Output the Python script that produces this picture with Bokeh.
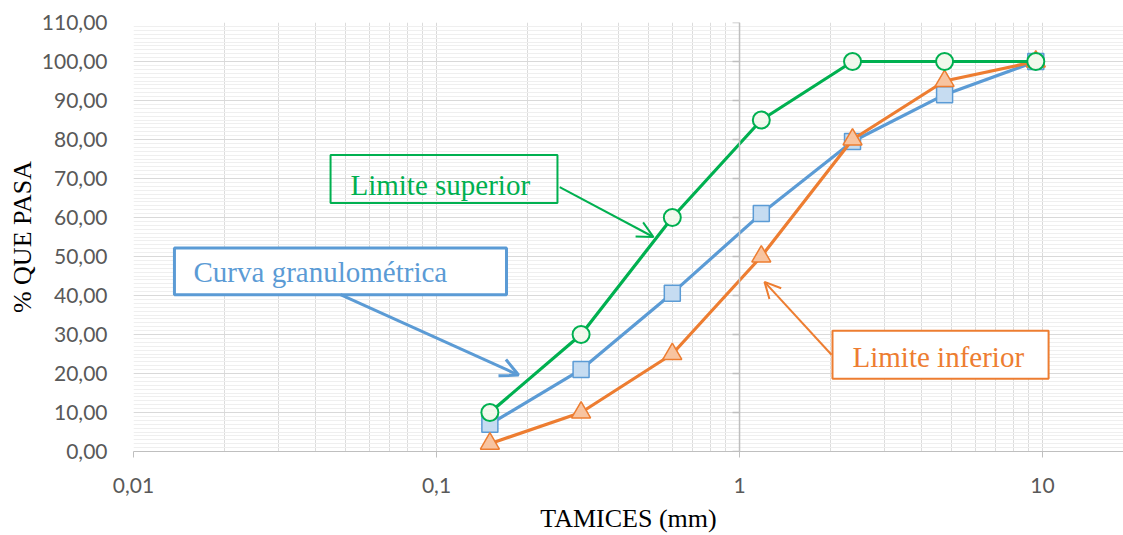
from bokeh.plotting import figure
from bokeh.models import (FixedTicker, Span, BoxAnnotation, Label, Arrow, OpenHead)
from bokeh.embed import file_html
from bokeh.resources import INLINE

# ---------------- data ----------------
tamices = [0.15, 0.3, 0.6, 1.18, 2.36, 4.75, 9.5]          # sieve size (mm)
curva = [7, 21, 40.6, 61, 79.5, 91.5, 100]                 # Curva granulométrica
lim_sup = [10, 30, 60, 85, 100, 100, 100]                  # Limite superior
lim_inf = [2, 10, 25, 50, 80, 95, 100]                     # Limite inferior

x_ticks = [0.01, 0.1, 1, 10]
x_tick_labels = ["0,01", "0,1", "1", "10"]
x_minor = [m * d for d in [0.01, 0.1, 1, 10] for m in [2, 3, 4, 5, 6, 7, 8, 9]]
y_ticks = [0, 10, 20, 30, 40, 50, 60, 70, 80, 90, 100, 110]
y_tick_labels = ["0,00", "10,00", "20,00", "30,00", "40,00", "50,00", "60,00",
                 "70,00", "80,00", "90,00", "100,00", "110,00"]
y_minor = list(range(0, 111))

GREEN = "#00b050"
BLUE = "#5b9bd5"
ORANGE = "#ed7d31"

p = figure(width=1123, height=535, x_axis_type="log",
           x_range=(0.01, 18.5), y_range=(0, 110),
           output_backend="svg", toolbar_location=None,
           min_border_left=133, min_border_right=0, min_border_top=22,
           min_border_bottom=83)
p.outline_line_color = None
p.background_fill_color = "white"

# axes
xa = p.xaxis[0]
xa.ticker = FixedTicker(ticks=x_ticks, minor_ticks=x_minor)
xa.major_label_overrides = dict(zip(x_ticks, x_tick_labels))
xa.axis_line_color = "#bfbfbf"
xa.major_tick_line_color = "#bfbfbf"
xa.major_tick_out = 6
xa.major_tick_in = 0
xa.minor_tick_line_color = None
xa.major_label_standoff = 20
xa.major_label_text_font = "Lato"
xa.major_label_text_font_size = "21px"
xa.major_label_text_color = "#595959"
xa.axis_label = "TAMICES (mm)"
xa.axis_label_text_font = "Liberation Serif"
xa.axis_label_text_font_size = "26px"
xa.axis_label_text_font_style = "normal"
xa.axis_label_text_color = "#000000"
xa.axis_label_standoff = 8

ya = p.yaxis[0]
ya.ticker = FixedTicker(ticks=y_ticks, minor_ticks=y_minor)
ya.major_label_overrides = dict(zip(y_ticks, y_tick_labels))
ya.axis_line_color = None
ya.major_tick_line_color = None
ya.minor_tick_line_color = None
ya.major_tick_out = 0
ya.major_label_standoff = 22
ya.major_label_text_font = "Lato"
ya.major_label_text_font_size = "21px"
ya.major_label_text_color = "#595959"
ya.axis_label = "% QUE PASA"
ya.axis_label_text_font = "Liberation Serif"
ya.axis_label_text_font_size = "26px"
ya.axis_label_text_font_style = "normal"
ya.axis_label_text_color = "#000000"
ya.axis_label_standoff = 2

# grids
p.xgrid.grid_line_color = "#d9d9d9"
p.xgrid.minor_grid_line_color = "#dcdcdc"
p.ygrid.grid_line_color = "#d9d9d9"
p.ygrid.minor_grid_line_color = "#efefef"

# vertical axis crossing at x = 1, with outward ticks
p.add_layout(Span(location=1, dimension="height", line_color="#bfbfbf", line_width=1.5))
tick_x0 = [10 ** (-7 / 303)] * len(y_ticks)
p.segment(x0=tick_x0, y0=y_ticks, x1=[1] * len(y_ticks), y1=y_ticks,
          line_color="#bfbfbf", line_width=1.5)

# series
p.line(tamices, curva, line_color=BLUE, line_width=3.2)
p.scatter(tamices, curva, marker="square", size=16, line_color=BLUE,
          line_width=1.5, fill_color="#c6dcf1")

p.line(tamices, lim_inf, line_color=ORANGE, line_width=3.2)
p.scatter(tamices, lim_inf, marker="triangle", size=19, line_color=ORANGE,
          line_width=1.5, fill_color="#f8c4a0")

p.line(tamices, lim_sup, line_color=GREEN, line_width=3.2)
p.scatter(tamices, lim_sup, marker="circle", size=17, line_color=GREEN,
          line_width=2, fill_color="#f1f8ec")

# callouts
def callout(box, text_pos, text, color, fill, lw, arrow, head):
    p.add_layout(BoxAnnotation(left=box[0], right=box[1], bottom=box[2], top=box[3],
                               fill_color="white", fill_alpha=fill,
                               line_color=color, line_width=lw, line_alpha=1))
    p.add_layout(Label(x=text_pos[0], y=text_pos[1], text=text,
                       text_font="Liberation Serif", text_font_size="29px",
                       text_color=color, text_align="left", text_baseline="middle"))
    p.add_layout(Arrow(x_start=arrow[0], y_start=arrow[1], x_end=arrow[2], y_end=arrow[3],
                       line_color=color, line_width=lw,
                       end=OpenHead(size=head, line_color=color, line_width=lw)))

callout((0.0447, 0.2507, 63.7, 76.0), (0.0520, 68.3), "Limite superior", GREEN, 0.0, 2,
        (0.255, 67.8, 0.52, 55.0), 16)
callout((0.01365, 0.1702, 40.2, 52.2), (0.01578, 46.0), "Curva granulométrica", BLUE, 1.0, 3,
        (0.0482, 40.2, 0.1866, 19.6), 18)
callout((2.027, 10.47, 18.67, 30.95), (2.36, 24.3), "Limite inferior", ORANGE, 1.0, 2,
        (2.012, 24.8, 1.209, 43.5), 16)

open("out.html", "w").write(file_html(p, INLINE))
